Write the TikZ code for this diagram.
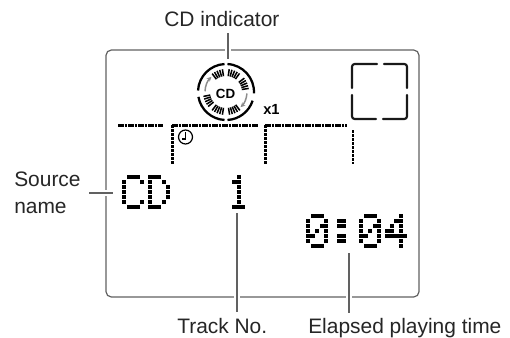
\documentclass[tikz,border=0pt]{standalone}
\usepackage{fontspec}
\setmainfont{Liberation Sans}
\usetikzlibrary{arrows.meta}
\newcommand{\dotglyph}[3]{% x0, y0, list of col/row/run
  \foreach \gc/\gr/\gl in {#3}{\fill[black] ({#1+4.5*\gc},{#2+5*\gr}) rectangle ({#1+4.5*\gc+4.5*\gl-0.2},{#2+5*\gr+4.2});}}
\tikzset{
  leader/.style={draw=black!62,line width=0.9pt},
  halo/.style={draw=white,line width=4pt},
  framel/.style={draw=black!62,line width=0.9pt,rounded corners=4pt},
  lbl/.style={font=\fontsize{15.7}{20}\selectfont,text=black!85,inner sep=0pt,anchor=base west},
  dashh/.style={draw=black,line width=2.1pt,dash pattern=on 2pt off 0.5pt},
  dashv/.style={draw=black,line width=2.1pt,dash pattern=on 2.4pt off 0.6pt},
  lcd/.style={draw=black!90,line width=1.6pt,line cap=round,rounded corners=2pt},
  ring/.style={draw=black,line width=1.7pt},
  tick/.style={draw=black,line width=1.15pt},
  spin/.style={draw=black!45,line width=1.1pt,-{Stealth[length=3.5pt,width=3.5pt]}}
}
\begin{document}
\begin{tikzpicture}[x=0.75pt,y=-0.75pt]
\useasboundingbox (0,0) rectangle (510,337);
\fill[white] (0,0) rectangle (510,337);
% frame
\draw[framel] (106,50) rectangle (419,297);
% labels
\node[lbl] (cdi) at (164,26) {CD indicator};
\node[lbl] (src) at (14,186) {Source};
\node[lbl] (srcb) at (14,213) {name};
\node[lbl] (trk) at (177,333) {Track No.};
\node[lbl] (elp) at (308,333) {Elapsed playing time};
% leader ends
\coordinate (a1) at (228,33); \coordinate (a2) at (228,59);
\coordinate (b1) at (89,193); \coordinate (b2) at (113,193);
\coordinate (c1) at (237,213); \coordinate (c2) at (237,312);
\coordinate (d1) at (349,253); \coordinate (d2) at (349,313);
\draw[halo] (228,47) -- (228,53);
\draw[halo] (103,193) -- (109,193);
\draw[halo] (237,294) -- (237,300);
\draw[halo] (349,294) -- (349,300);
\draw[leader] (a1) -- (a2);
\draw[leader] (b1) -- (b2);
\draw[leader] (c1) -- (c2);
\draw[leader] (d1) -- (d2);
% disc
\coordinate (disc) at (226,92);
\foreach \a/\b in {-87/3,18/87,93/170,183/267}{
  \draw[ring] (disc) ++(\a:28) arc[start angle=\a,end angle=\b,radius=28];
}
\foreach \m in {-113,-68,-23,67,113,155}{
  \foreach \k in {-14,-7,0,7,14}{
    \draw[tick] (disc) ++({\m+\k}:16) -- ++({\m+\k}:7);
  }
}
\draw[spin] (disc) ++(-178:21) arc[start angle=-178,end angle=-134,radius=21];
\draw[spin] (disc) ++(4:21) arc[start angle=4,end angle=46,radius=21];
\node[inner sep=0pt,font=\bfseries\fontsize{10}{12}\selectfont] (cdt) at (225.5,94) {CD};
\node[inner sep=0pt,anchor=base west,font=\bfseries\fontsize{11}{13}\selectfont] (xone) at (263,114) {x1};
% bracket square
\draw[lcd] (377,64) -- (352,64) -- (352,88);
\draw[lcd] (384,64) -- (407,64) -- (407,88);
\draw[lcd] (352,95) -- (352,119) -- (376,119);
\draw[lcd] (407,95) -- (407,119) -- (383,119);
% dotted segments
\draw[dashh] (118,125.5) -- (163,125.5);
\draw[dashh] (172,125.5) -- (258,125.5);
\draw[dashh] (265,125.5) -- (347,125.5);
\draw[dashv] (172.7,125) -- (172.7,164);
\draw[dashv] (265.5,125) -- (265.5,164);
\draw[dashv] (353,130) -- (353,164);
% clock
\coordinate (clk) at (185.5,137);
\draw[black,line width=0.9pt] (clk) circle[radius=7];
\draw[black,line width=0.9pt] (185.5,132) -- (185.5,139) -- (181.5,139);
% dot-matrix text
\dotglyph{122}{175}{1/0/3,0/1/1,4/1/1,0/2/1,0/3/1,0/4/1,0/5/1,4/5/1,1/6/3}
\dotglyph{148}{175}{0/0/3,0/1/1,3/1/1,0/2/1,4/2/1,0/3/1,4/3/1,0/4/1,4/4/1,0/5/1,3/5/1,0/6/3}
\dotglyph{232}{175}{1/0/1,0/1/2,1/2/1,1/3/1,1/4/1,1/5/1,0/6/3}
\dotglyph{306}{214}{1/0/3,0/1/1,4/1/1,0/2/1,3/2/2,0/3/1,2/3/1,4/3/1,0/4/2,4/4/1,0/5/1,4/5/1,1/6/3}
\dotglyph{337}{214}{0/1/2,0/2/2,0/4/2,0/5/2}
\dotglyph{359}{214}{1/0/3,0/1/1,4/1/1,0/2/1,3/2/2,0/3/1,2/3/1,4/3/1,0/4/2,4/4/1,0/5/1,4/5/1,1/6/3}
\dotglyph{385}{214}{3/0/1,2/1/2,1/2/1,3/2/1,0/3/2,3/3/1,0/4/5,3/5/1,3/6/1}
\end{tikzpicture}
\end{document}
